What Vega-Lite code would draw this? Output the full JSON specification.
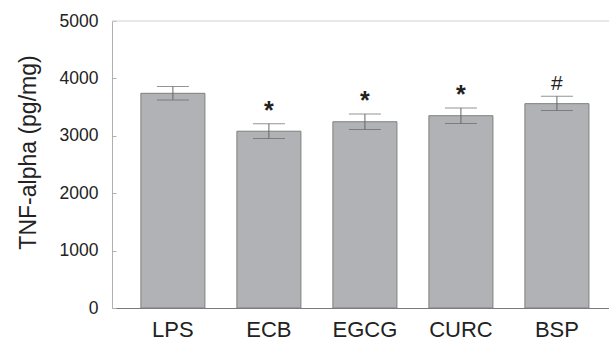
{
  "$schema": "https://vega.github.io/schema/vega-lite/v6.json",
  "width": 497,
  "height": 287,
  "autosize": "none",
  "padding": {"left": 112, "top": 21, "right": 0, "bottom": 33},
  "background": "white",
  "config": {
    "view": {"stroke": null},
    "font": "Liberation Sans"
  },
  "data": {
    "values": [
      {"group": "LPS", "mean": 3740, "lo": 3625, "hi": 3860, "mark": ""},
      {"group": "ECB", "mean": 3080, "lo": 2955, "hi": 3210, "mark": "*"},
      {"group": "EGCG", "mean": 3245, "lo": 3110, "hi": 3380, "mark": "*"},
      {"group": "CURC", "mean": 3350, "lo": 3215, "hi": 3485, "mark": "*"},
      {"group": "BSP", "mean": 3560, "lo": 3440, "hi": 3690, "mark": "#"}
    ]
  },
  "encoding": {
    "x": {
      "field": "group",
      "type": "nominal",
      "sort": null,
      "scale": {"paddingInner": 0.333, "paddingOuter": 0.255, "align": 0.59},
      "axis": {
        "title": null,
        "labelAngle": 0,
        "labelFontSize": 22,
        "labelColor": "#222222",
        "labelPadding": 11,
        "ticks": false,
        "domainColor": "#7a7a7a",
        "domainWidth": 1
      }
    }
  },
  "layer": [
    {
      "data": {"values": [{"top": 5000}]},
      "mark": {"type": "rule", "color": "#cfcfcf", "strokeWidth": 1},
      "encoding": {
        "x": null,
        "y": {"field": "top", "type": "quantitative", "scale": {"domain": [0, 5000], "nice": false}}
      }
    },
    {
      "mark": {"type": "bar", "color": "#b1b2b6", "stroke": "#7f7f7f", "strokeWidth": 1},
      "encoding": {
        "y": {
          "field": "mean",
          "type": "quantitative",
          "scale": {"domain": [0, 5000], "nice": false},
          "axis": {
            "title": "TNF-alpha (pg/mg)",
            "titleFontSize": 23,
            "titleFontWeight": "normal",
            "titleColor": "#222222",
            "titleAngle": 270,
            "titleAlign": "center",
            "titleBaseline": "alphabetic",
            "titleX": -77,
            "titleY": 131,
            "values": [0, 1000, 2000, 3000, 4000, 5000],
            "format": "d",
            "grid": false,
            "labelFontSize": 17.5,
            "labelColor": "#222222",
            "labelPadding": 18,
            "tickSize": -4,
            "tickColor": "#b0b0b0",
            "domainColor": "#b0b0b0"
          }
        }
      }
    },
    {
      "mark": {"type": "rule", "color": "#666666", "strokeWidth": 1},
      "encoding": {
        "y": {"field": "lo", "type": "quantitative"},
        "y2": {"field": "hi"}
      }
    },
    {
      "mark": {"type": "tick", "color": "#666666", "thickness": 1, "size": 32},
      "encoding": {"y": {"field": "lo", "type": "quantitative"}}
    },
    {
      "mark": {"type": "tick", "color": "#666666", "thickness": 1, "size": 32},
      "encoding": {"y": {"field": "hi", "type": "quantitative"}}
    },
    {
      "transform": [{"filter": "datum.mark == '*'"}],
      "mark": {"type": "text", "fontSize": 25, "fontWeight": "bold", "color": "#222222", "baseline": "alphabetic", "dy": -5},
      "encoding": {
        "y": {"field": "hi", "type": "quantitative"},
        "text": {"field": "mark"}
      }
    },
    {
      "transform": [{"filter": "datum.mark == '#'"}],
      "mark": {"type": "text", "fontSize": 21, "color": "#222222", "baseline": "alphabetic", "dy": -6},
      "encoding": {
        "y": {"field": "hi", "type": "quantitative"},
        "text": {"field": "mark"}
      }
    }
  ]
}
